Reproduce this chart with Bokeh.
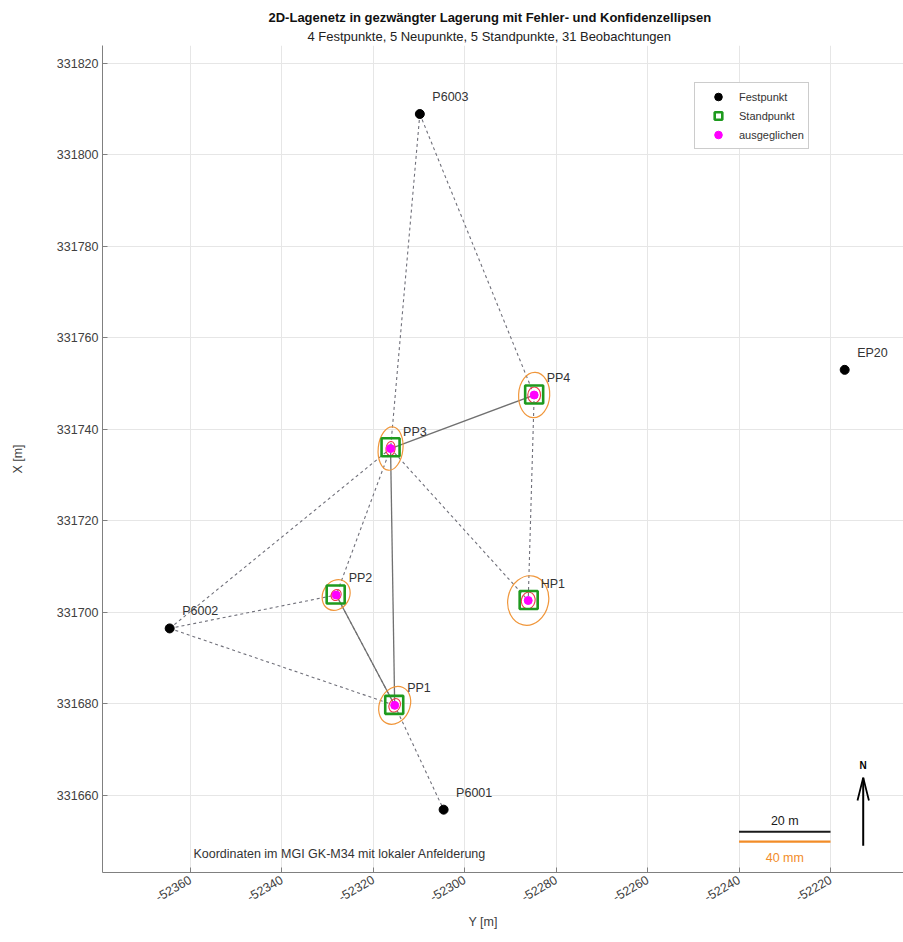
import math
from bokeh.plotting import figure
from bokeh.models import (Range1d, Title, Legend, LegendItem, FixedTicker, ColumnDataSource,
                          CustomJSTickFormatter)
from bokeh.core.properties import value
from bokeh.embed import file_html
from bokeh.resources import INLINE

# ---- network data (Y = easting, X = northing, metres) ----
fest_names = ["P6001", "P6002", "P6003", "EP20"]
fest_y = [-52304.6, -52364.5, -52309.8, -52216.9]
fest_x = [331656.9, 331696.5, 331808.9, 331753.0]

neu_names = ["PP1", "PP2", "PP3", "PP4", "HP1"]
stand_y = [-52315.4, -52328.2, -52316.2, -52284.8, -52286.0]
stand_x = [331679.8, 331703.9, 331736.1, 331747.6, 331702.7]
ausg_y = [-52315.3, -52328.1, -52316.2, -52284.8, -52286.1]
ausg_x = [331679.7, 331703.8, 331735.8, 331747.5, 331702.6]

# confidence ellipses (full axes in m, rotation in degrees)
konf_w = [6.6, 5.8, 5.4, 6.8, 8.9]
konf_h = [8.6, 7.0, 9.5, 9.9, 10.9]
konf_ang = [-25, -30, -6, -3, -12]
# error ellipses
fehl_w = [2.4, 2.1, 2.0, 2.8, 3.0]
fehl_h = [3.1, 2.5, 3.1, 3.5, 3.7]

# observations
obs_dashed = [("P6003", "PP3"), ("P6003", "PP4"), ("P6002", "PP3"), ("P6002", "PP2"),
              ("P6002", "PP1"), ("PP3", "PP2"), ("PP3", "HP1"), ("PP4", "HP1"),
              ("PP1", "P6001"), ("PP2", "PP1")]
obs_solid = [("PP3", "PP4"), ("PP3", "PP1"), ("PP2", "PP1")]

y_ticks = [331660, 331680, 331700, 331720, 331740, 331760, 331780, 331800, 331820]
x_ticks = [-52360, -52340, -52320, -52300, -52280, -52260, -52240, -52220]

scale_len_m = 20
scale_len_label = "20 m"
scale_map_label = "40 mm"

FONT = "Liberation Sans"
TXT = "#333333"

coords = {}
for n, e, nn in zip(fest_names, fest_y, fest_x):
    coords[n] = (e, nn)
for n, e, nn in zip(neu_names, ausg_y, ausg_x):
    coords[n] = (e, nn)

p = figure(width=903, height=942,
           x_range=Range1d(-52379.19, -52204.04),
           y_range=Range1d(331643.17, 331823.87),
           output_backend="svg", toolbar_location=None,
           min_border_left=102, min_border_right=0,
           min_border_top=45, min_border_bottom=70)
p.outline_line_color = None
p.background_fill_color = "white"
p.border_fill_color = "white"

# titles
sub = Title(text="4 Festpunkte, 5 Neupunkte, 5 Standpunkte, 31 Beobachtungen",
            align="left", offset=205, standoff=3,
            text_font=FONT, text_font_size="13px", text_font_style="normal",
            text_color="#222222")
main = Title(text="2D-Lagenetz in gezwängter Lagerung mit Fehler- und Konfidenzellipsen",
             align="left", offset=166, standoff=1,
             text_font=FONT, text_font_size="13px", text_font_style="bold",
             text_color="#111111")
p.add_layout(sub, "above")
p.add_layout(main, "above")

# axes
plain = CustomJSTickFormatter(code="return tick.toFixed(0);")
for ax in (p.xaxis[0], p.yaxis[0]):
    ax.axis_line_color = "#808080"
    ax.major_tick_line_color = "#808080"
    ax.major_tick_in = 5
    ax.major_tick_out = 0
    ax.minor_tick_line_color = None
    ax.major_label_text_font = FONT
    ax.major_label_text_font_size = "12.5px"
    ax.major_label_text_color = "#404040"
    ax.axis_label_text_font = FONT
    ax.axis_label_text_font_size = "12.5px"
    ax.axis_label_text_font_style = "normal"
    ax.axis_label_text_color = "#404040"
    ax.formatter = plain

p.yaxis.ticker = FixedTicker(ticks=y_ticks)
p.xaxis.ticker = FixedTicker(ticks=x_ticks)
p.yaxis.major_label_standoff = 4
p.yaxis.axis_label = "X [m]"
p.yaxis.axis_label_standoff = 29
p.xaxis.major_label_orientation = math.radians(30)
p.xaxis.major_label_standoff = 6

xlab = Title(text="Y [m]", align="left", offset=366, standoff=8,
             text_font=FONT, text_font_size="12.5px", text_font_style="normal",
             text_color="#404040")
p.add_layout(xlab, "below")

p.grid.grid_line_color = "#e6e6e6"
p.grid.grid_line_width = 1

# observation lines
def seg(pairs):
    xs, ys = [], []
    for a, b in pairs:
        xs.append([coords[a][0], coords[b][0]])
        ys.append([coords[a][1], coords[b][1]])
    return xs, ys

xs, ys = seg(obs_dashed)
p.multi_line(xs, ys, line_color="#70707a", line_width=1.1, line_dash="3 3")
xs, ys = seg(obs_solid)
p.multi_line(xs, ys, line_color="#707070", line_width=1.3)

# ellipses
p.ellipse(ausg_y, ausg_x, width=konf_w, height=konf_h, angle=konf_ang, angle_units="deg",
          fill_color=None, line_color="#f0963a", line_width=1.2)
p.ellipse(ausg_y, ausg_x, width=fehl_w, height=fehl_h, angle=konf_ang, angle_units="deg",
          fill_color=None, line_color="#ee3a4a", line_width=1.1)

# stations, adjusted points, fixed points
r_stand = p.scatter(stand_y, stand_x, marker="square", size=18, fill_color=None,
                    line_color="#1e9a1e", line_width=2.6)
r_ausg = p.scatter(ausg_y, ausg_x, marker="circle", size=8, fill_color="#ff00ff",
                   line_color="#ff00ff")
r_fest = p.scatter(fest_y, fest_x, marker="circle", size=9, fill_color="black",
                   line_color="black")

# point names
lab_src = ColumnDataSource(dict(x=fest_y + ausg_y, y=fest_x + ausg_x, t=fest_names + neu_names))
p.text("x", "y", text="t", source=lab_src, x_offset=12.5, y_offset=-17,
       text_align="left", text_baseline="middle", text_font=value(FONT),
       text_font_size="12.5px", text_color=TXT)

# coordinate system note
p.text([-52359.3], [331647.2], text=["Koordinaten im MGI GK-M34 mit lokaler Anfelderung"],
       text_align="left", text_baseline="middle", text_font=value(FONT),
       text_font_size="12.5px", text_color=TXT)

# scale bar
sb_y0 = -52240
sb_x = 331652.1
sb_x2 = 331649.9
p.line([sb_y0, sb_y0 + scale_len_m], [sb_x, sb_x], line_color="#1a1a1a", line_width=2)
p.line([sb_y0, sb_y0 + scale_len_m], [sb_x2, sb_x2], line_color="#f28c28", line_width=2.2)
p.text([sb_y0 + scale_len_m / 2], [sb_x], text=[scale_len_label], y_offset=-11,
       text_align="center", text_baseline="middle", text_font=value(FONT),
       text_font_size="12.5px", text_color="#1a1a1a")
p.text([sb_y0 + scale_len_m / 2], [sb_x2], text=[scale_map_label], y_offset=16,
       text_align="center", text_baseline="middle", text_font=value(FONT),
       text_font_size="12.5px", text_color="#f28c28")

# north arrow
na_y = -52212.85
na_x0 = 331649.0
na_len = 14.9
p.line([na_y, na_y], [na_x0, na_x0 + na_len], line_color="black", line_width=2)
p.line([na_y - 1.25, na_y, na_y + 1.25], [na_x0 + na_len - 5.0, na_x0 + na_len, na_x0 + na_len - 5.0],
       line_color="black", line_width=1.8)
p.text([na_y], [na_x0 + na_len], text=["N"], y_offset=-12.5, text_align="center",
       text_baseline="middle", text_font=value(FONT), text_font_size="10px",
       text_font_style="bold", text_color="black")

# legend
legend = Legend(items=[LegendItem(label="Festpunkt", renderers=[r_fest]),
                       LegendItem(label="Standpunkt", renderers=[r_stand]),
                       LegendItem(label="ausgeglichen", renderers=[r_ausg])],
                location=(592, 723))
legend.border_line_color = "#9a9a9a"
legend.border_line_width = 1
legend.background_fill_color = "white"
legend.background_fill_alpha = 1
legend.label_text_font = FONT
legend.label_text_font_size = "11px"
legend.label_text_color = TXT
legend.glyph_height = 19
legend.glyph_width = 38
legend.label_height = 19
legend.spacing = 0
legend.padding = 4
legend.margin = 0
legend.label_standoff = 2
p.add_layout(legend)

open("out.html", "w").write(file_html(p, INLINE))
